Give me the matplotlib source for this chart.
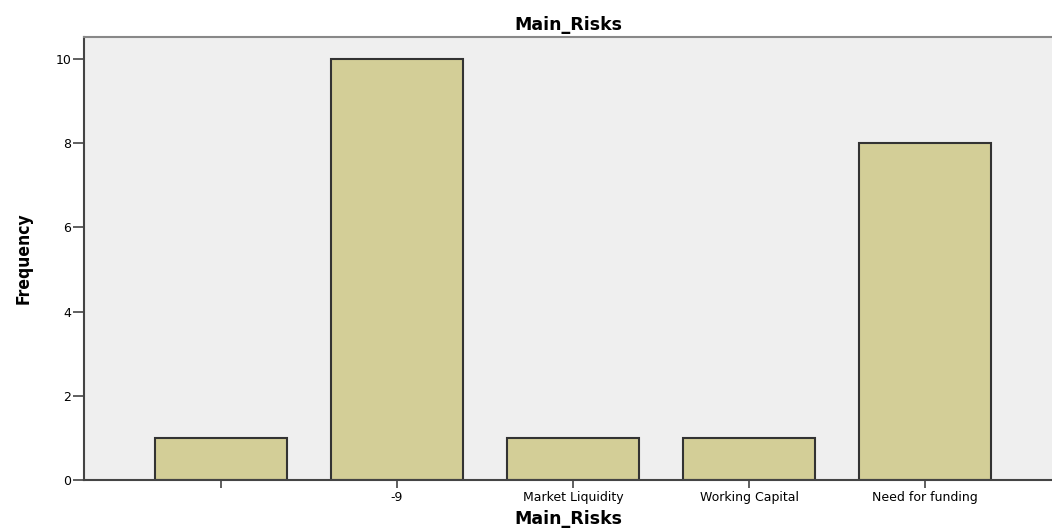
import matplotlib
matplotlib.use("Agg")
import matplotlib.pyplot as plt

# Frequency table of Main_Risks
categories = ["", "-9", "Market Liquidity", "Working Capital", "Need for funding"]
frequency = [1, 10, 1, 1, 8]
y_ticks = [0, 2, 4, 6, 8, 10]

plt.rcParams['font.family'] = ['DejaVu Sans']

fig = plt.figure(figsize=(10.52, 5.29), dpi=100)
ax = fig.add_axes([0.0798, 0.0926, 0.9202, 0.8374])
ax.set_facecolor('#EFEFEF')

x = range(len(categories))
ax.bar(x, frequency, width=0.75, color='#D3CE97', edgecolor='#333333', linewidth=1.5, zorder=2)

ax.set_xlim(-0.778, 4.72)
ax.set_ylim(0, 10.52)
ax.set_xticks(list(x))
ax.set_xticklabels(categories, fontsize=9)
ax.set_yticks(y_ticks)
ax.set_yticklabels([str(t) for t in y_ticks], fontsize=9)

ax.tick_params(axis='x', length=6, width=1.2, color='#444444', pad=2)
ax.tick_params(axis='y', length=8, width=1.2, color='#444444', pad=1)

for side in ['left', 'bottom']:
    ax.spines[side].set_color('#444444')
    ax.spines[side].set_linewidth(1.5)
ax.spines['top'].set_color('#888888')
ax.spines['top'].set_linewidth(1.5)
ax.spines['right'].set_visible(False)

ax.set_title('Main_Risks', fontsize=12.5, fontweight='bold', pad=5)
ax.set_xlabel('Main_Risks', fontsize=12.5, fontweight='bold', labelpad=4)
ax.set_ylabel('Frequency', fontsize=12.5, fontweight='bold', fontstretch='condensed')
ax.yaxis.set_label_coords(-0.053, 0.5)

fig.savefig('out.png', dpi=100)
